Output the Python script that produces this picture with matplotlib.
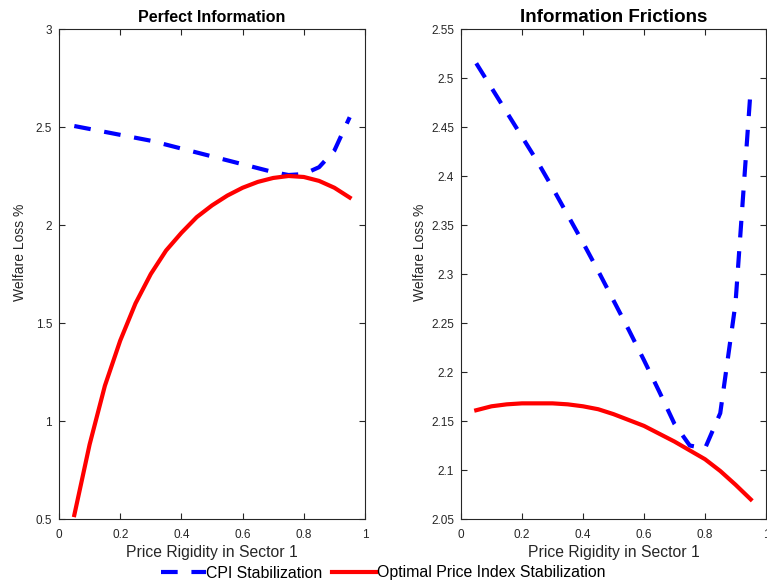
import matplotlib.pyplot as plt
import numpy as np

plt.rcParams['font.family'] = ['Liberation Sans', 'DejaVu Sans']

# data
rigidity = [0.05, 0.10, 0.15, 0.20, 0.25, 0.30, 0.35, 0.40, 0.45, 0.50,
            0.55, 0.60, 0.65, 0.70, 0.75, 0.80, 0.85, 0.90, 0.95]

cpi_perfect = [2.505, 2.49, 2.475, 2.46, 2.445, 2.43, 2.41, 2.39, 2.37, 2.35,
               2.33, 2.31, 2.29, 2.27, 2.255, 2.26, 2.295, 2.38, 2.55]
opt_perfect = [0.52, 0.88, 1.18, 1.41, 1.60, 1.75, 1.87, 1.96, 2.04, 2.10,
               2.15, 2.19, 2.22, 2.24, 2.25, 2.245, 2.225, 2.19, 2.14]

cpi_frictions = [2.515, 2.49, 2.465, 2.44, 2.415, 2.388, 2.36, 2.332, 2.303, 2.273,
                 2.243, 2.212, 2.18, 2.147, 2.125, 2.122, 2.158, 2.27, 2.49]
opt_frictions = [2.161, 2.165, 2.167, 2.168, 2.168, 2.168, 2.167, 2.165, 2.162, 2.157,
                 2.151, 2.145, 2.137, 2.129, 2.12, 2.111, 2.099, 2.085, 2.07]

panels = [
    ('Perfect Information', cpi_perfect, opt_perfect, (0.5, 3), [0.5, 1, 1.5, 2, 2.5, 3],
     ['0.5', '1', '1.5', '2', '2.5', '3'], 11.5, -0.105),
    ('Information Frictions', cpi_frictions, opt_frictions, (2.05, 2.55), np.arange(2.05, 2.5501, 0.05),
     ['2.05', '2.1', '2.15', '2.2', '2.25', '2.3', '2.35', '2.4', '2.45', '2.5', '2.55'], 13.5, -0.111),
]

fig = plt.figure(figsize=(7.67, 5.84), dpi=100)
ax1 = fig.add_axes([59/767, 1 - 519/584, 306/767, 490/584])
ax2 = fig.add_axes([461/767, 1 - 519/584, 305/767, 490/584])

gray = '#262626'
for ax, (title, cpi, opt, ylim, yticks, ylabels, tsize, ylx) in zip([ax1, ax2], panels):
    l1, = ax.plot(rigidity, cpi, color='#0000ff', linewidth=3, label='CPI Stabilization')
    l1.set_dashes((4, 3.3))
    ax.plot(rigidity, opt, color='#ff0000', linewidth=3, label='Optimal Price Index Stabilization')
    ax.set_xlim(0, 1)
    ax.set_ylim(*ylim)
    ax.set_xticks([0, 0.2, 0.4, 0.6, 0.8, 1])
    ax.set_xticklabels(['0', '0.2', '0.4', '0.6', '0.8', '1'])
    ax.set_yticks(yticks)
    ax.set_yticklabels(ylabels)
    ax.tick_params(direction='in', top=True, right=True, labelsize=8.5, colors=gray, length=4, width=0.8)
    ax.tick_params(axis='x', pad=7)
    ax.tick_params(axis='y', pad=5)
    for s in ax.spines.values():
        s.set_color(gray)
        s.set_linewidth(0.8)
    ax.set_title(title, fontsize=tsize, fontweight='bold', pad=5)
    ax.set_xlabel('Price Rigidity in Sector 1', fontsize=11.3, color=gray, labelpad=3)
    ax.set_ylabel('Welfare Loss %', fontsize=10, color=gray)
    ax.yaxis.set_label_coords(ylx, 0.545)

handles, labels = ax1.get_legend_handles_labels()
fig.legend(handles, labels, loc='center', ncol=2, frameon=False, fontsize=11.4,
           bbox_to_anchor=(0.5, 1 - 573/584), handlelength=2.8, handletextpad=0.05,
           columnspacing=0.6)

fig.savefig('out.png', dpi=100)
